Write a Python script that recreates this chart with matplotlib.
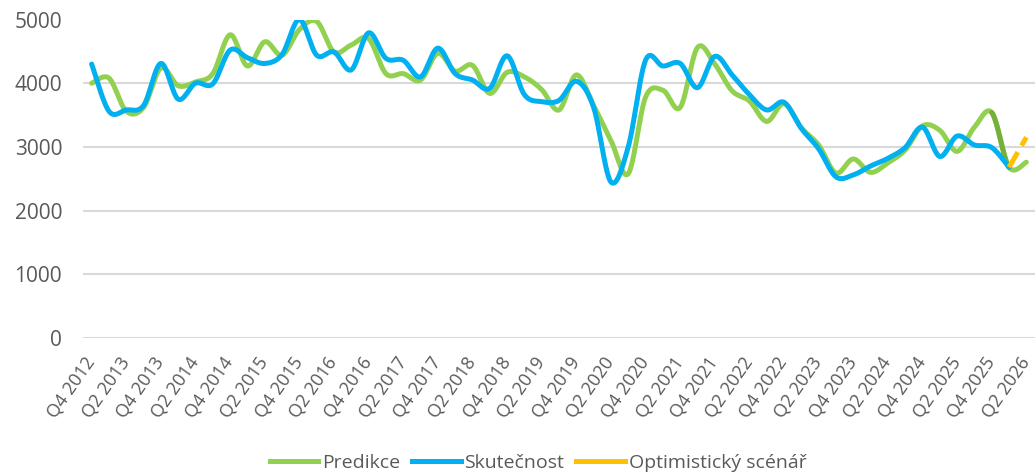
import numpy as np
import matplotlib
matplotlib.use("Agg")
import matplotlib.pyplot as plt
from matplotlib.lines import Line2D

plt.rcParams["font.family"] = ["Open Sans", "DejaVu Sans"]

# quarters Q4 2012 .. Q2 2026
quarters = ["Q4 2012"] + [f"Q{q} {y}" for y in range(2013, 2026) for q in range(1, 5)] + ["Q1 2026", "Q2 2026"]

predikce = [4000, 4080, 3560, 3620, 4240, 3960, 4020, 4150, 4760, 4270,
            4650, 4440, 4840, 4970, 4490, 4600, 4700, 4150, 4150, 4050,
            4470, 4190, 4280, 3840, 4170, 4100, 3900, 3580, 4130, 3650,
            3100, 2580, 3780, 3890, 3620, 4560, 4300, 3880, 3720, 3400,
            3680, 3300, 3030, 2590, 2810, 2600, 2750, 2950, 3330, 3260,
            2930, 3310, 3540, 2680, 2760]

skutecnost = [4300, 3560, 3580, 3650, 4310, 3750, 4000, 3990, 4520, 4400,
              4310, 4450, 5000, 4440, 4490, 4210, 4790, 4390, 4360, 4100,
              4550, 4150, 4050, 3920, 4430, 3820, 3710, 3730, 4030, 3620,
              2450, 3000, 4360, 4270, 4310, 3930, 4420, 4130, 3820, 3580,
              3700, 3290, 2970, 2530, 2560, 2700, 2820, 2990, 3310, 2850,
              3170, 3030, 2990, 2680]

optimisticky = [2680, 3150]   # Q1 2026, Q2 2026
opt_start = 53


def smooth(x, y, n=24):
    # Excel-like smoothed line (Catmull-Rom as cubic Bezier)
    p = np.column_stack([x, y]).astype(float)
    p = np.vstack([p[0], p, p[-1]])
    xs, ys = [], []
    t = np.linspace(0, 1, n)[:, None]
    for i in range(len(p) - 3):
        p0, p1, p2, p3 = p[i], p[i + 1], p[i + 2], p[i + 3]
        c1 = p1 + (p2 - p0) / 6
        c2 = p2 - (p3 - p1) / 6
        b = (1 - t) ** 3 * p1 + 3 * (1 - t) ** 2 * t * c1 + 3 * (1 - t) * t ** 2 * c2 + t ** 3 * p2
        xs.append(b[:, 0])
        ys.append(b[:, 1])
    return np.concatenate(xs), np.concatenate(ys)


fig = plt.figure(figsize=(10.36, 4.76), dpi=100)
ax = fig.add_axes([83 / 1036, 1 - 338 / 476, (1035 - 83) / 1036, (338 - 19.5) / 476])

green = "#92D050"
blue = "#00B0F0"
orange = "#FFC000"
lw = 3.6

gx, gy = smooth(np.arange(len(predikce)), predikce)
ax.plot(gx, gy, color=green, lw=lw, solid_capstyle="round", zorder=3)
seg = (gx >= 52) & (gx <= 53)
ax.plot(gx[seg], gy[seg], color="#74B03A", lw=lw, solid_capstyle="round", zorder=3)

bx, by = smooth(np.arange(len(skutecnost)), skutecnost)
ax.plot(bx, by, color=blue, lw=lw, solid_capstyle="round", zorder=4)

ox = np.arange(opt_start, opt_start + len(optimisticky))
ax.plot(ox, optimisticky, color=orange, lw=lw, dashes=(3.5, 1.5), zorder=5)

ax.set_xlim(-0.5, len(quarters) - 0.5)
ax.set_ylim(0, 5000)
ax.set_yticks(range(0, 5001, 1000))
ax.set_xticks(range(0, len(quarters), 2))
ax.set_xticklabels(quarters[::2], rotation=55, ha="right", va="center",
                   rotation_mode="anchor")
ax.tick_params(axis="both", length=0, colors="#595959")
ax.tick_params(axis="x", pad=15, labelsize=13)
ax.tick_params(axis="y", pad=15, labelsize=15)
ax.grid(axis="y", color="#D9D9D9", lw=1.5)
ax.set_axisbelow(True)
for s in ax.spines.values():
    s.set_visible(False)

handles = [Line2D([], [], color=green, lw=lw),
           Line2D([], [], color=blue, lw=lw),
           Line2D([], [], color=orange, lw=lw)]
fig.legend(handles, ["Predikce", "Skutečnost", "Optimistický scénář"],
           loc="center", bbox_to_anchor=(538 / 1036, 1 - 463 / 476), ncol=3,
           frameon=False, fontsize=14, labelcolor="#595959",
           handlelength=2.5, handletextpad=0.2, columnspacing=0.6)

fig.savefig("out.png", dpi=100)
